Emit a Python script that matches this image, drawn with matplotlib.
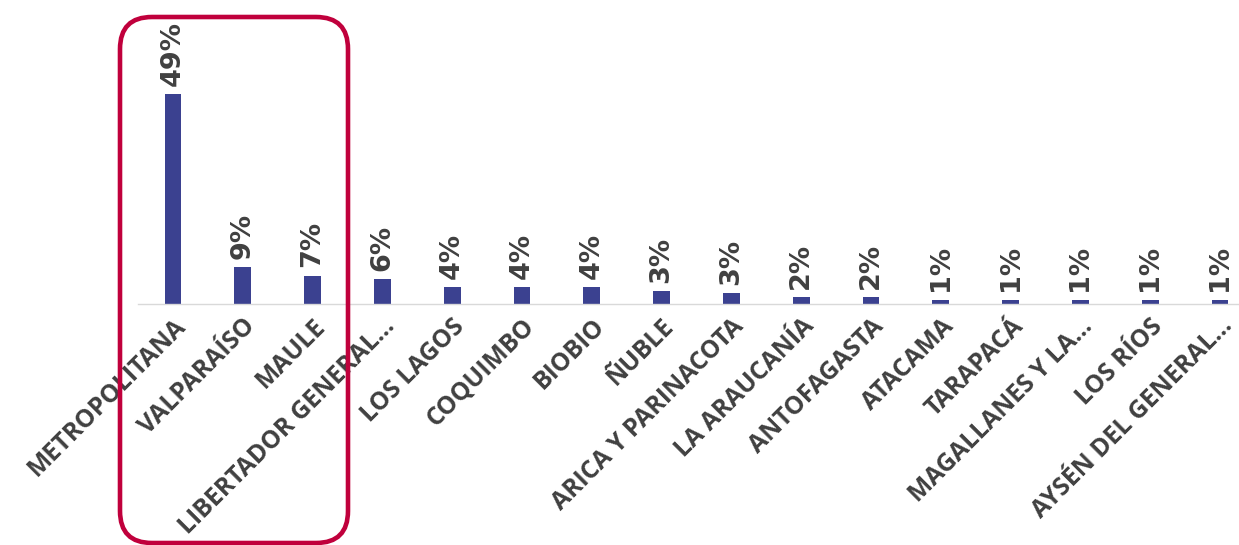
import matplotlib
matplotlib.use('Agg')

import matplotlib.pyplot as plt
from matplotlib.patches import FancyBboxPatch
from matplotlib.transforms import IdentityTransform

plt.rcParams['font.family'] = ['Open Sans', 'DejaVu Sans']

regions = ['METROPOLITANA', 'VALPARAÍSO', 'MAULE', 'LIBERTADOR GENERAL...',
           'LOS LAGOS', 'COQUIMBO', 'BIOBIO', 'ÑUBLE', 'ARICA Y PARINACOTA',
           'LA ARAUCANÍA', 'ANTOFAGASTA', 'ATACAMA', 'TARAPACÁ',
           'MAGALLANES Y LA...', 'LOS RÍOS', 'AYSÉN DEL GENERAL...']
shares = [49.0, 8.6, 6.6, 5.8, 4.0, 4.0, 4.0, 3.0, 2.6,
          1.6, 1.6, 1.0, 1.0, 1.0, 1.0, 1.0]

bar_color = '#3B4190'
text_color = '#404040'

fig = plt.figure(figsize=(12.39, 5.45), dpi=100)
ax = fig.add_axes([138 / 1239, 241 / 545, 1117 / 1239, 294 / 545])

x = range(len(regions))
ax.bar(x, shares, width=0.24, color=bar_color)

# value labels, vertical, above each bar
for i, v in zip(x, shares):
    ax.annotate(f'{v:.0f}%', (i, v), xytext=(0, 6), textcoords='offset points',
                rotation=90, ha='center', va='bottom', fontsize=19.5,
                fontweight='bold', color=text_color, family='DejaVu Sans')

ax.set_xlim(-0.5, 15.5)
ax.set_ylim(0, 49 * 294 / 210)
ax.set_xticks(list(x))
ax.set_xticklabels(regions, rotation=45, ha='right', va='top',
                   rotation_mode='anchor', fontsize=17.8, fontweight='bold',
                   color=text_color)
ax.tick_params(axis='x', length=0, pad=7)
ax.set_yticks([])
for side in ['top', 'left', 'right']:
    ax.spines[side].set_visible(False)
ax.spines['bottom'].set_color('#D9D9D9')
ax.spines['bottom'].set_linewidth(1)

# red highlight box around the top three regions
box = FancyBboxPatch((120, 2), 228, 526, boxstyle='round,pad=0,rounding_size=32',
                     transform=IdentityTransform(), fill=False,
                     edgecolor='#C0003C', linewidth=3.3)
fig.patches.append(box)

fig.savefig('out.png', dpi=100)
